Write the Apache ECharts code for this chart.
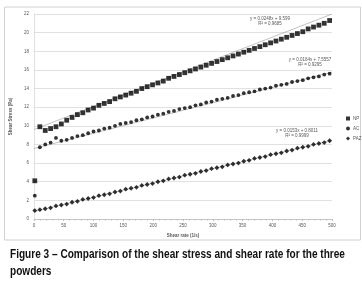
<!DOCTYPE html>
<html>
<head>
<meta charset="utf-8">
<script src="https://cdn.jsdelivr.net/npm/echarts@6/dist/echarts.min.js"></script>
<style>
  html, body { margin: 0; padding: 0; background: #fff; }
  #chart { width: 362px; height: 290px; }
</style>
</head>
<body>
<div id="chart"></div>
<script>
const shearRate = [1.5, 10, 19, 28, 37, 46, 55, 64, 73, 82, 91, 100, 109, 118, 127, 136, 145, 154, 163, 172,
  181, 190, 199, 208, 217, 226, 235, 244, 253, 262, 271, 280, 289, 298, 307, 316, 325, 334, 343, 352,
  361, 370, 379, 388, 397, 406, 415, 424, 433, 442, 451, 460, 469, 478, 487, 496]

const npStress = [4.1, 9.9, 9.5, 9.7, 9.9, 10.2, 10.6, 10.9, 11.2, 11.4, 11.7, 11.9, 12.2, 12.4, 12.6, 12.9, 13.1, 13.3, 13.5, 13.7,
  14.0, 14.2, 14.4, 14.6, 14.8, 15.1, 15.3, 15.5, 15.7, 15.9, 16.1, 16.3, 16.5, 16.7, 16.9, 17.1, 17.3, 17.5, 17.7, 17.9,
  18.1, 18.3, 18.5, 18.7, 18.9, 19.1, 19.3, 19.5, 19.7, 19.9, 20.1, 20.4, 20.6, 20.8, 21.0, 21.3]

const acStress = [2.5, 7.7, 8.0, 8.2, 8.7, 8.4, 8.5, 8.7, 8.9, 9.0, 9.2, 9.4, 9.5, 9.7, 9.8, 10.0, 10.2, 10.3, 10.4, 10.6,
  10.7, 10.9, 11.0, 11.2, 11.3, 11.5, 11.6, 11.8, 11.9, 12.0, 12.2, 12.3, 12.5, 12.6, 12.8, 12.9, 13.0, 13.2, 13.3, 13.5,
  13.6, 13.7, 13.9, 14.0, 14.1, 14.3, 14.4, 14.5, 14.7, 14.8, 14.9, 15.1, 15.2, 15.3, 15.5, 15.6]

const pazStress = [0.9, 1.0, 1.1, 1.2, 1.4, 1.5, 1.6, 1.8, 1.9, 2.1, 2.2, 2.3, 2.5, 2.6, 2.7, 2.9, 3.0, 3.2, 3.3, 3.4,
  3.6, 3.7, 3.8, 4.0, 4.1, 4.3, 4.4, 4.5, 4.7, 4.8, 4.9, 5.1, 5.2, 5.4, 5.5, 5.6, 5.8, 5.9, 6.0, 6.2,
  6.3, 6.5, 6.6, 6.7, 6.9, 7.0, 7.1, 7.3, 7.4, 7.6, 7.7, 7.8, 8.0, 8.1, 8.2, 8.4]

// trend line end points
const npTrend = [[0, 9.6], [500, 22.0]]
const acTrend = [[0, 7.56], [500, 15.76]]
const pazTrend = [[0, 0.8], [500, 8.45]]

const seriesNames = ['NP', 'AC', 'PAZ']
const trendLabels = [
  ['y = 0.0248x + 9.599', 'R² = 0.9685'],
  ['y = 0.0164x + 7.5557', 'R² = 0.9295'],
  ['y = 0.0153x + 0.8011', 'R² = 0.9999']
]

const textColor = '#595959'
const fontFamily = 'Liberation Sans, Arial, sans-serif'

function pairs (xs, ys) {
  return xs.map((x, i) => [x, ys[i]])
}

function scatterSeries (name, ys, symbol, size) {
  return {
    name: name,
    type: 'scatter',
    symbol: symbol,
    symbolSize: size,
    itemStyle: { color: '#000' },
    data: pairs(shearRate, ys),
    z: 3
  }
}

function trendSeries (data) {
  return {
    type: 'line',
    data: data,
    symbol: 'none',
    silent: true,
    lineStyle: { color: '#9a9a9a', width: 0.6 },
    z: 2
  }
}

function eqText (x, y, lines) {
  return {
    type: 'text',
    x: x,
    y: y,
    style: {
      text: lines.join('\n'),
      fill: textColor,
      font: '4.5px ' + fontFamily,
      align: 'center',
      lineHeight: 5.5
    }
  }
}

const chart = echarts.init(document.getElementById('chart'), null, { renderer: 'canvas' })

const option = {
  animation: false,
  backgroundColor: '#fff',
  textStyle: { fontFamily: fontFamily },
  grid: { left: 27, right: 30, top: 14, bottom: 71 },
  legend: {
    data: [
      { name: 'NP', icon: 'rect' },
      { name: 'AC', icon: 'circle' },
      { name: 'PAZ', icon: 'diamond' }
    ],
    orient: 'vertical',
    left: 341,
    top: 111,
    itemWidth: 4,
    itemHeight: 4,
    itemGap: 5,
    textStyle: { fontSize: 4.5, color: textColor, padding: [0, 0, 0, -2] }
  },
  xAxis: {
    type: 'value',
    min: 0,
    max: 500,
    interval: 50,
    name: 'Shear rate (1/s)',
    nameLocation: 'middle',
    nameGap: 13,
    nameTextStyle: { fontSize: 4.5, color: textColor, fontWeight: 'bold' },
    axisLine: { lineStyle: { color: '#bfbfbf', width: 0.8 } },
    axisTick: { show: true, length: 2, lineStyle: { color: '#bfbfbf' } },
    minorTick: { show: true, splitNumber: 5, length: 1.5, lineStyle: { color: '#bfbfbf' } },
    axisLabel: { fontSize: 4.5, color: textColor, margin: 4 },
    splitLine: { show: false }
  },
  yAxis: {
    type: 'value',
    min: 0,
    max: 22,
    interval: 2,
    name: 'Shear Stress (Pa)',
    nameLocation: 'middle',
    nameGap: 14,
    nameTextStyle: { fontSize: 4.5, color: textColor, fontWeight: 'bold' },
    axisLine: { show: true, lineStyle: { color: '#d9d9d9', width: 0.8 } },
    axisTick: { show: false },
    axisLabel: { fontSize: 4.5, color: textColor, margin: 5 },
    splitLine: { lineStyle: { color: '#d9d9d9', width: 0.8 } }
  },
  series: [
    scatterSeries(seriesNames[0], npStress, 'rect', 4.8),
    scatterSeries(seriesNames[1], acStress, 'circle', 3.8),
    scatterSeries(seriesNames[2], pazStress, 'diamond', 4.8),
    trendSeries(npTrend),
    trendSeries(acTrend),
    trendSeries(pazTrend)
  ],
  graphic: [
    {
      type: 'rect',
      shape: { x: 4.5, y: 7, width: 356, height: 233 },
      style: { fill: 'none', stroke: '#d0d0d0', lineWidth: 1 },
      silent: true
    },
    eqText(270, 16, trendLabels[0]),
    eqText(310, 57, trendLabels[1]),
    eqText(297, 128, trendLabels[2]),
    {
      type: 'text',
      x: 10,
      y: 246,
      scaleX: 0.84,
      style: {
        text: 'Figure 3 – Comparison of the shear stress and shear rate for the three\npowders',
        fill: '#111',
        font: 'bold 12px ' + fontFamily,
        lineHeight: 17
      }
    }
  ]
}

chart.setOption(option)
</script>
</body>
</html>
